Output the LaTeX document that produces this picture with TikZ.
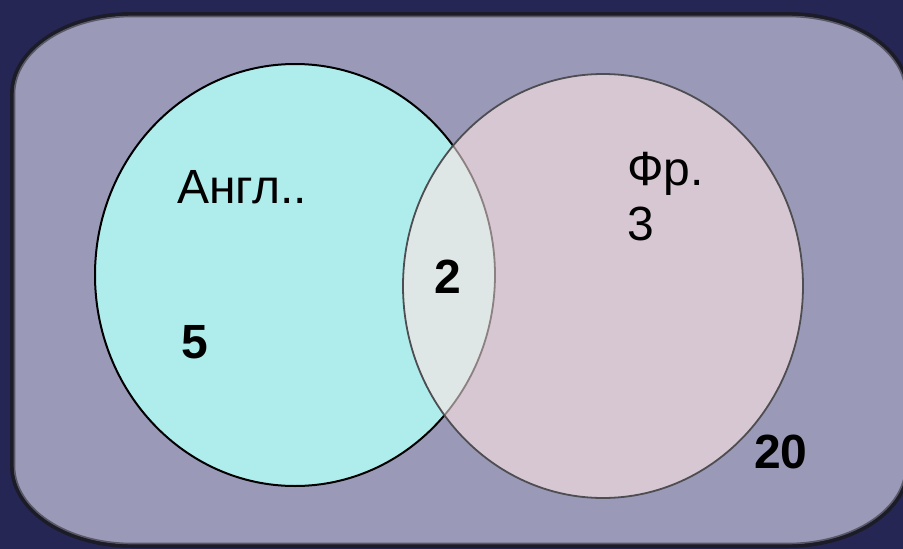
\documentclass[tikz,border=0pt]{standalone}
\usepackage{fontspec}
\setmainfont{Liberation Sans}
\definecolor{navybg}{RGB}{37,38,84}
\definecolor{panel}{RGB}{154,154,184}
\definecolor{paneldark}{RGB}{28,28,40}
\definecolor{panelgray}{RGB}{88,88,104}
\definecolor{cyanfill}{RGB}{175,237,237}
\definecolor{pinkfill}{RGB}{215,199,211}
\definecolor{lensfill}{RGB}{223,231,230}
\definecolor{rimgray}{RGB}{78,78,82}
\definecolor{rimbrown}{RGB}{140,128,128}
\tikzset{
  lbl/.style={anchor=base west, inner sep=0pt, font=\fontsize{48}{55}\selectfont},
  blbl/.style={lbl, font=\fontsize{48}{55}\selectfont\bfseries},
}
\begin{document}
\begin{tikzpicture}[x=1pt,y=-1pt]
\useasboundingbox (0,0) rectangle (903,549);
\fill[navybg] (0,0) rectangle (903,549);
% panel
\path[fill=panel,draw=paneldark,line width=4]
 (12,94) .. controls (12,49.8) and (65.7,14) .. (132,14)
 -- (788,14) .. controls (854.3,14) and (908,49.8) .. (908,94)
 -- (908,466) .. controls (908,510.2) and (854.3,546) .. (788,546)
 -- (132,546) .. controls (65.7,546) and (12,510.2) .. (12,466) -- cycle;
\draw[panelgray,line width=1.6]
 (14.5,94) .. controls (14.5,51) and (67,16.5) .. (132,16.5)
 -- (788,16.5) .. controls (853,16.5) and (905.5,51) .. (905.5,94)
 -- (905.5,466) .. controls (905.5,509) and (853,543.5) .. (788,543.5)
 -- (132,543.5) .. controls (67,543.5) and (14.5,509) .. (14.5,466) -- cycle;
% circles
\def\leftell{(295,275) ellipse [x radius=200, y radius=211]}
\def\rightell{(603,286) ellipse [x radius=200, y radius=212]}
\fill[cyanfill] \leftell;
\draw[black,line width=2] \leftell;
\fill[pinkfill] \rightell;
\begin{scope}
 \clip \leftell;
 \fill[lensfill] \rightell;
\end{scope}
\begin{scope}
 \clip \rightell;
 \draw[rimbrown,line width=1.8] \leftell;
\end{scope}
\draw[rimgray,line width=1.8] \rightell;
% labels
\node[lbl] (angl) at (177,203) {Англ..};
\node[blbl] (five) at (181,358) {5};
\node[blbl] (two) at (434,293) {2};
\node[lbl] (fr) at (627,185) {Фр.};
\node[lbl] (three) at (627,240) {3};
\node[blbl] (twenty) at (754,468) {20};
\end{tikzpicture}
\end{document}
